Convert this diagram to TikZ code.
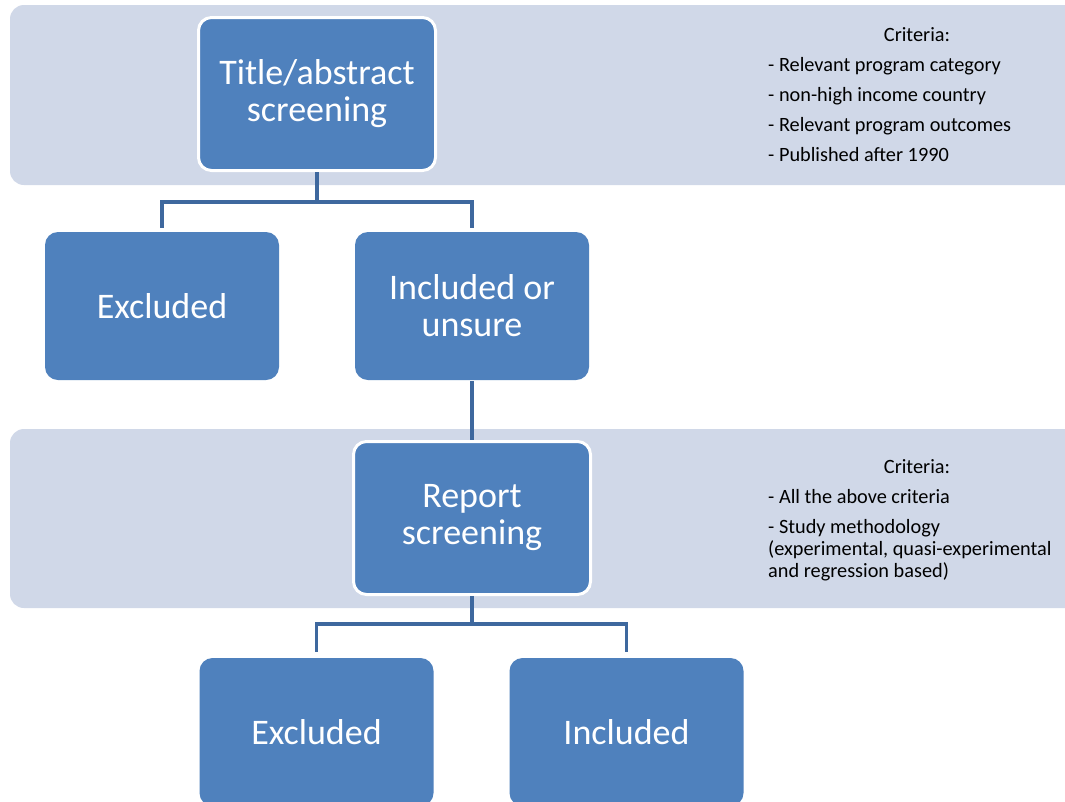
\documentclass[tikz,border=0pt]{standalone}
\usepackage{fontspec}
\setmainfont{Carlito}
\definecolor{band}{RGB}{208,216,232}
\definecolor{boxblue}{RGB}{79,129,189}
\definecolor{linkblue}{RGB}{62,104,158}
\begin{document}
\begin{tikzpicture}[x=1pt,y=-1pt,
  bandbox/.style={fill=band,draw=none,rounded corners=14pt},
  stepbox/.style={fill=boxblue,draw=none,rounded corners=13pt,minimum width=234pt,minimum height=148pt,
    text=white,align=center,inner sep=0pt,font=\fontsize{36}{37}\selectfont},
  keybox/.style={stepbox,draw=white,line width=3pt,minimum width=237pt,minimum height=153pt},
  conn/.style={draw=linkblue,line width=3.5pt},
  crit/.style={align=left,inner sep=0pt,text=black,font=\fontsize{20.3}{30}\selectfont},
  crithead/.style={inner sep=0pt,text=black,font=\fontsize{20.3}{22}\selectfont}]
\clip (0,0) rectangle (1065,801);
\fill[white] (0,0) rectangle (1065,801);
% bands
\path[bandbox] (10,5) rectangle (1100,185);
\path[bandbox] (10,429) rectangle (1100,608);
% boxes
\node[keybox] (title) at (317,94) {Title/abstract\\screening};
\node[stepbox] (excl1) at (162,306) {Excluded};
\node[stepbox] (incl1) at (472,306) {Included or\\unsure};
\node[keybox] (report) at (472,518) {Report\\screening};
\node[stepbox] (excl2) at (316.5,732) {Excluded};
\node[stepbox] (incl2) at (626.5,732) {Included};
\coordinate (j1) at (317,202);
\coordinate (j2) at (472,624);
\draw[conn,shorten >=4pt] (title.south) -- (j1) -| (excl1.north);
\draw[conn,shorten >=4pt] (j1) -| (incl1.north);
\draw[conn,shorten <=1pt] (incl1.south) -- (report.north);
\draw[conn,shorten >=6pt] (report.south) -- (j2) -| (excl2.north);
\draw[conn,shorten >=6pt] (j2) -| (incl2.north);
% criteria
\node[crithead] (c1head) at (917,35) {Criteria:};
\node[crit,anchor=north west] (c1list) at (768,57) {- Relevant program category\\- non-high income country\\- Relevant program outcomes\\- Published after 1990};
\node[crithead] (c2head) at (917,467) {Criteria:};
\node[crit,anchor=north west,font=\fontsize{20.3}{22}\selectfont] (c2list) at (768,489) {- All the above criteria\\[8pt]- Study methodology\\(experimental, quasi-experimental\\and regression based)};
\end{tikzpicture}
\end{document}
